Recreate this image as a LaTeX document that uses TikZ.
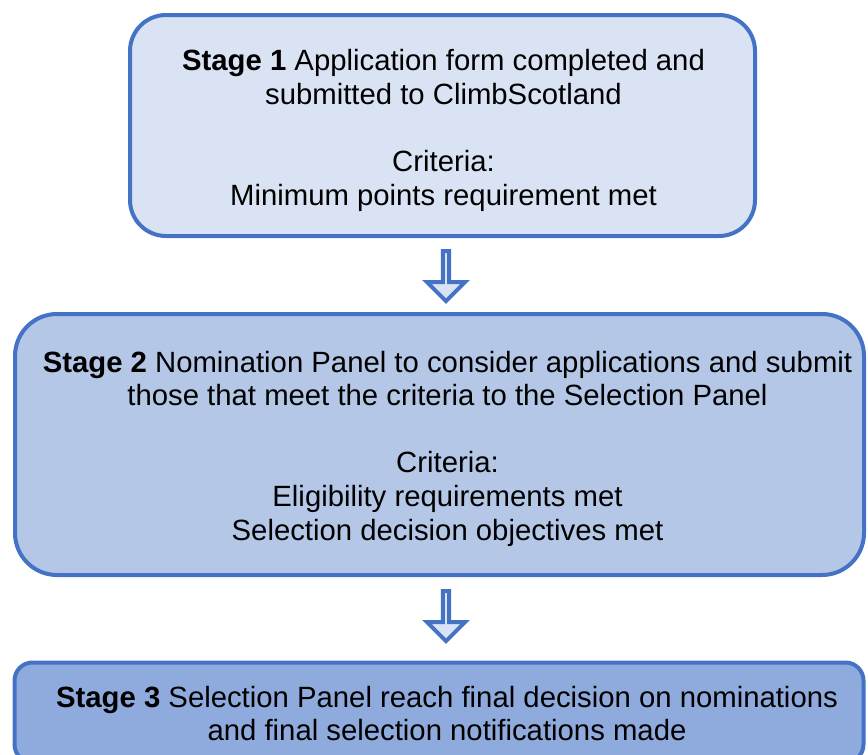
\documentclass[tikz,border=0pt]{standalone}
\usepackage{fontspec}
\setmainfont{Liberation Sans}
\usetikzlibrary{shapes.arrows}
\definecolor{cborder}{RGB}{68,114,196}
\definecolor{cstageone}{RGB}{218,227,243}
\definecolor{cstagetwo}{RGB}{180,199,231}
\definecolor{cstagethree}{RGB}{143,170,220}

\begin{document}
\begin{tikzpicture}[y=1pt,x=1pt,yscale=-1, inner sep=0pt, outer sep=0pt,
  stagebox/.style={draw=cborder, line width=4pt},
  stagetext/.style={align=center, font=\fontsize{29.3}{33.6}\selectfont},
  downarrow/.style={single arrow, draw=cborder, fill=cstageone,
    line width=4pt, shape border rotate=270, minimum height=50,
    minimum width=38, single arrow head extend=10}]

  \useasboundingbox (0,0) rectangle (868,755);

  % stage boxes
  \node[stagebox, fill=cstageone, rounded corners=36, minimum width=625,
    minimum height=221] (stage1) at (442.5,125.5) {};
  \node[stagebox, fill=cstagetwo, rounded corners=42, minimum width=849,
    minimum height=261] (stage2) at (439.5,444.5) {};
  \node[stagebox, fill=cstagethree, rounded corners=18, minimum width=849,
    minimum height=100] (stage3) at (439,712.5) {};

  % texts
  \node[stagetext, xshift=1, yshift=-5] (stage1text) at (stage1)
    {\textbf{Stage 1} Application form completed and\\
     submitted to ClimbScotland\\[33.6pt]
     Criteria:\\
     Minimum points requirement met};
  \node[stagetext, xshift=8, yshift=-4] (stage2text) at (stage2)
    {\textbf{Stage 2} Nomination Panel to consider applications and submit\\
     those that meet the criteria to the Selection Panel\\[33.6pt]
     Criteria:\\
     Eligibility requirements met\\
     Selection decision objectives met};
  \node[stagetext, xshift=8, yshift=-1] (stage3text) at (stage3)
    {\textbf{Stage 3} Selection Panel reach final decision on nominations\\
     and final selection notifications made};

  % block arrows between stages
  \node[downarrow] (step12) at (446,274.5) {};
  \node[downarrow] (step23) at (446,614.5) {};
\end{tikzpicture}
\end{document}
